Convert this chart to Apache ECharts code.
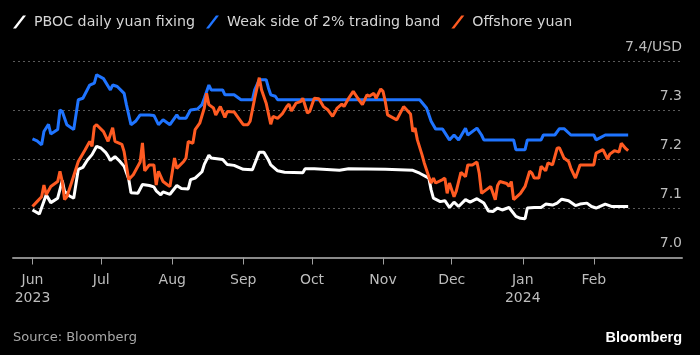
<!DOCTYPE html>
<html><head><meta charset="utf-8">
<script src="https://cdn.jsdelivr.net/npm/echarts@6/dist/echarts.min.js"></script>
<style>html,body{margin:0;padding:0;background:#000;}#c{width:700px;height:355px;}</style>
</head><body><div id="c"></div>
<script>
const seriesNames = ['PBOC daily yuan fixing', 'Weak side of 2% trading band', 'Offshore yuan'];
const monthTicks = ['2023-06-01','2023-07-01','2023-08-01','2023-09-01','2023-10-01','2023-11-01','2023-12-01','2024-01-01','2024-02-01'];
const monthNames = ['Jan','Feb','Mar','Apr','May','Jun','Jul','Aug','Sep','Oct','Nov','Dec'];
const yTicks = [7.0, 7.1, 7.2, 7.3, 7.4];

const fixing = [['2023-06-01',7.097],['2023-06-04',7.089],['2023-06-07',7.128],['2023-06-09',7.112],['2023-06-12',7.121],['2023-06-14',7.157],['2023-06-15',7.135],['2023-06-17',7.126],['2023-06-19',7.121],['2023-06-21',7.180],['2023-06-23',7.184],['2023-06-25',7.199],['2023-06-27',7.210],['2023-06-29',7.227],['2023-07-01',7.223],['2023-07-03',7.214],['2023-07-04',7.207],['2023-07-05',7.198],['2023-07-07',7.206],['2023-07-09',7.197],['2023-07-11',7.186],['2023-07-13',7.160],['2023-07-14',7.132],['2023-07-17',7.131],['2023-07-19',7.149],['2023-07-22',7.147],['2023-07-24',7.144],['2023-07-25',7.136],['2023-07-27',7.128],['2023-07-28',7.134],['2023-07-31',7.129],['2023-08-03',7.147],['2023-08-05',7.141],['2023-08-08',7.140],['2023-08-09',7.159],['2023-08-11',7.162],['2023-08-14',7.175],['2023-08-15',7.190],['2023-08-17',7.209],['2023-08-18',7.203],['2023-08-23',7.200],['2023-08-25',7.190],['2023-08-28',7.188],['2023-09-01',7.180],['2023-09-05',7.179],['2023-09-07',7.203],['2023-09-08',7.215],['2023-09-10',7.215],['2023-09-12',7.199],['2023-09-13',7.189],['2023-09-16',7.177],['2023-09-19',7.174],['2023-09-27',7.173],['2023-09-28',7.181],['2023-10-02',7.181],['2023-10-13',7.178],['2023-10-17',7.181],['2023-11-02',7.180],['2023-11-14',7.178],['2023-11-17',7.172],['2023-11-21',7.162],['2023-11-22',7.138],['2023-11-23',7.121],['2023-11-26',7.114],['2023-11-28',7.116],['2023-11-30',7.102],['2023-12-02',7.113],['2023-12-04',7.104],['2023-12-07',7.118],['2023-12-09',7.113],['2023-12-12',7.120],['2023-12-15',7.111],['2023-12-17',7.095],['2023-12-19',7.094],['2023-12-21',7.101],['2023-12-23',7.097],['2023-12-26',7.102],['2023-12-29',7.084],['2023-12-31',7.080],['2024-01-02',7.079],['2024-01-03',7.101],['2024-01-06',7.102],['2024-01-09',7.102],['2024-01-11',7.109],['2024-01-14',7.107],['2024-01-16',7.111],['2024-01-18',7.119],['2024-01-21',7.116],['2024-01-24',7.106],['2024-01-26',7.109],['2024-01-29',7.111],['2024-01-31',7.104],['2024-02-02',7.101],['2024-02-06',7.109],['2024-02-09',7.104],['2024-02-16',7.104]];

const weakSide = [['2023-06-01',7.242],['2023-06-03',7.238],['2023-06-05',7.230],['2023-06-06',7.257],['2023-06-08',7.272],['2023-06-09',7.252],['2023-06-12',7.261],['2023-06-13',7.301],['2023-06-14',7.298],['2023-06-16',7.271],['2023-06-19',7.261],['2023-06-21',7.322],['2023-06-23',7.325],['2023-06-26',7.352],['2023-06-28',7.356],['2023-06-29',7.373],['2023-07-02',7.365],['2023-07-05',7.342],['2023-07-06',7.352],['2023-07-08',7.349],['2023-07-11',7.335],['2023-07-12',7.312],['2023-07-14',7.271],['2023-07-16',7.278],['2023-07-18',7.291],['2023-07-22',7.291],['2023-07-24',7.290],['2023-07-26',7.271],['2023-07-28',7.281],['2023-07-31',7.271],['2023-08-03',7.291],['2023-08-04',7.284],['2023-08-07',7.284],['2023-08-09',7.301],['2023-08-12',7.303],['2023-08-14',7.312],['2023-08-15',7.325],['2023-08-17',7.352],['2023-08-18',7.342],['2023-08-23',7.342],['2023-08-24',7.332],['2023-08-28',7.332],['2023-08-31',7.322],['2023-09-05',7.322],['2023-09-06',7.342],['2023-09-08',7.363],['2023-09-11',7.363],['2023-09-12',7.346],['2023-09-13',7.332],['2023-09-15',7.329],['2023-09-16',7.322],['2023-11-17',7.322],['2023-11-20',7.305],['2023-11-22',7.278],['2023-11-24',7.262],['2023-11-27',7.262],['2023-11-30',7.240],['2023-12-02',7.250],['2023-12-04',7.240],['2023-12-07',7.264],['2023-12-08',7.250],['2023-12-12',7.264],['2023-12-14',7.250],['2023-12-15',7.240],['2023-12-28',7.240],['2023-12-29',7.220],['2024-01-02',7.220],['2024-01-03',7.240],['2024-01-09',7.240],['2024-01-10',7.250],['2024-01-15',7.250],['2024-01-17',7.263],['2024-01-19',7.263],['2024-01-22',7.250],['2024-02-01',7.250],['2024-02-02',7.240],['2024-02-06',7.250],['2024-02-16',7.250]];

const offshore = [['2023-06-01',7.104],['2023-06-03',7.114],['2023-06-05',7.124],['2023-06-06',7.148],['2023-06-07',7.128],['2023-06-09',7.145],['2023-06-12',7.155],['2023-06-13',7.176],['2023-06-14',7.155],['2023-06-15',7.118],['2023-06-16',7.124],['2023-06-18',7.152],['2023-06-21',7.196],['2023-06-24',7.220],['2023-06-26',7.237],['2023-06-27',7.227],['2023-06-28',7.267],['2023-06-29',7.271],['2023-07-02',7.257],['2023-07-04',7.237],['2023-07-06',7.265],['2023-07-07',7.237],['2023-07-10',7.231],['2023-07-11',7.216],['2023-07-13',7.159],['2023-07-15',7.169],['2023-07-18',7.195],['2023-07-19',7.234],['2023-07-20',7.177],['2023-07-22',7.189],['2023-07-24',7.189],['2023-07-25',7.148],['2023-07-26',7.176],['2023-07-28',7.155],['2023-07-30',7.148],['2023-07-31',7.145],['2023-08-02',7.203],['2023-08-03',7.182],['2023-08-06',7.196],['2023-08-07',7.203],['2023-08-08',7.237],['2023-08-10',7.233],['2023-08-11',7.261],['2023-08-13',7.274],['2023-08-15',7.305],['2023-08-16',7.335],['2023-08-17',7.312],['2023-08-19',7.305],['2023-08-20',7.291],['2023-08-22',7.308],['2023-08-24',7.286],['2023-08-25',7.298],['2023-08-28',7.297],['2023-08-30',7.284],['2023-09-01',7.271],['2023-09-03',7.271],['2023-09-04',7.278],['2023-09-06',7.325],['2023-09-08',7.367],['2023-09-09',7.342],['2023-09-11',7.315],['2023-09-13',7.272],['2023-09-14',7.288],['2023-09-16',7.284],['2023-09-18',7.293],['2023-09-20',7.308],['2023-09-21',7.313],['2023-09-22',7.299],['2023-09-24',7.315],['2023-09-26',7.318],['2023-09-27',7.325],['2023-09-29',7.295],['2023-09-30',7.298],['2023-10-02',7.325],['2023-10-04',7.324],['2023-10-06',7.308],['2023-10-08',7.301],['2023-10-10',7.288],['2023-10-12',7.305],['2023-10-14',7.313],['2023-10-15',7.308],['2023-10-17',7.325],['2023-10-19',7.339],['2023-10-21',7.325],['2023-10-23',7.312],['2023-10-25',7.332],['2023-10-26',7.329],['2023-10-28',7.335],['2023-10-29',7.325],['2023-10-31',7.344],['2023-11-01',7.339],['2023-11-02',7.318],['2023-11-03',7.291],['2023-11-05',7.286],['2023-11-07',7.281],['2023-11-10',7.308],['2023-11-12',7.298],['2023-11-13',7.293],['2023-11-14',7.257],['2023-11-15',7.264],['2023-11-16',7.240],['2023-11-18',7.210],['2023-11-19',7.193],['2023-11-21',7.165],['2023-11-22',7.152],['2023-11-23',7.162],['2023-11-24',7.152],['2023-11-27',7.159],['2023-11-28',7.162],['2023-11-29',7.131],['2023-11-30',7.152],['2023-12-02',7.124],['2023-12-03',7.136],['2023-12-05',7.174],['2023-12-07',7.165],['2023-12-08',7.189],['2023-12-10',7.189],['2023-12-12',7.195],['2023-12-13',7.172],['2023-12-14',7.131],['2023-12-16',7.138],['2023-12-18',7.145],['2023-12-20',7.118],['2023-12-21',7.147],['2023-12-22',7.155],['2023-12-25',7.151],['2023-12-26',7.145],['2023-12-27',7.155],['2023-12-28',7.118],['2023-12-31',7.131],['2024-01-02',7.145],['2024-01-04',7.176],['2024-01-05',7.172],['2024-01-06',7.162],['2024-01-08',7.162],['2024-01-09',7.186],['2024-01-11',7.177],['2024-01-12',7.193],['2024-01-14',7.189],['2024-01-16',7.223],['2024-01-17',7.224],['2024-01-19',7.203],['2024-01-21',7.196],['2024-01-22',7.182],['2024-01-24',7.162],['2024-01-26',7.189],['2024-01-30',7.189],['2024-02-01',7.189],['2024-02-02',7.213],['2024-02-05',7.220],['2024-02-07',7.201],['2024-02-08',7.211],['2024-02-10',7.218],['2024-02-12',7.215],['2024-02-13',7.233],['2024-02-15',7.222],['2024-02-16',7.218]];

const FONT = 'DejaVu Sans';
const colors = ['#ffffff', '#1f74ff', '#ff5b22'];
const slash = 'path://M10,0 L13,0 L3,13 L0,13 Z';
const t = s => new Date(s + 'T00:00:00').getTime();
const tickTimes = monthTicks.map(t);
const toPts = arr => arr.map(p => [t(p[0]), p[1]]);

const chart = echarts.init(document.getElementById('c'), null, {renderer: 'canvas'});
chart.setOption({
  backgroundColor: '#000000',
  animation: false,
  legend: {
    left: 13, top: 15, padding: 0, itemWidth: 13, itemHeight: 13, itemGap: 11,
    icon: slash,
    textStyle: {color: '#d6d6d6', fontFamily: FONT, fontSize: 14.2, padding: [0, 0, 0, 3]},
    data: seriesNames
  },
  grid: {left: 13, right: 18, top: 61.5, bottom: 97.5, containLabel: false, outerBoundsMode: 'none'},
  xAxis: {
    type: 'value',
    min: new Date('2023-05-23T12:00:00').getTime(),
    max: new Date('2024-03-10T12:00:00').getTime(),
    axisLine: {show: true, lineStyle: {color: '#8a8a8a', width: 2}},
    axisTick: {show: true, length: 7, customValues: tickTimes, lineStyle: {color: '#a0a0a0', width: 1}},
    axisLabel: {
      customValues: tickTimes, color: '#bdbdbd', fontFamily: FONT, fontSize: 14,
      margin: 14, lineHeight: 18,
      formatter: function (v) {
        const d = new Date(v); const m = d.getMonth();
        return (m === 5 || m === 0) ? monthNames[m] + '\n' + d.getFullYear() : monthNames[m];
      }
    },
    splitLine: {show: false}
  },
  yAxis: {
    type: 'value', position: 'right', min: yTicks[0], max: yTicks[yTicks.length - 1], interval: 0.1,
    axisLine: {show: false}, axisTick: {show: false},
    axisLabel: {
      inside: true, margin: 0, color: '#bdbdbd', fontFamily: FONT, fontSize: 14,
      verticalAlign: 'bottom', lineHeight: 14, padding: [0, 0, 7, 0],
      showMinLabel: true, showMaxLabel: true,
      formatter: function (v) {
        const s = v.toFixed(1);
        return Math.abs(v - yTicks[yTicks.length - 1]) < 1e-9 ? s + '/USD' : s;
      }
    },
    splitLine: {show: true, lineStyle: {color: '#5a5a5a', width: 1, type: [2, 3]}}
  },
  series: [
    {name: seriesNames[0], type: 'line', data: toPts(fixing), showSymbol: false, color: colors[0], lineStyle: {width: 3, color: colors[0]}, z: 3},
    {name: seriesNames[1], type: 'line', data: toPts(weakSide), showSymbol: false, color: colors[1], lineStyle: {width: 3, color: colors[1]}, z: 4},
    {name: seriesNames[2], type: 'line', data: toPts(offshore), showSymbol: false, color: colors[2], lineStyle: {width: 3, color: colors[2]}, z: 5}
  ],
  graphic: [
    {type: 'text', left: 13, top: 331, style: {text: 'Source: Bloomberg', fill: '#a8a8a8', font: '13px "DejaVu Sans"'}},
    {type: 'text', right: 18, top: 330, style: {text: 'Bloomberg', fill: '#ffffff', font: 'bold 14.5px "Liberation Sans"'}}
  ]
});
</script>
</body></html>
